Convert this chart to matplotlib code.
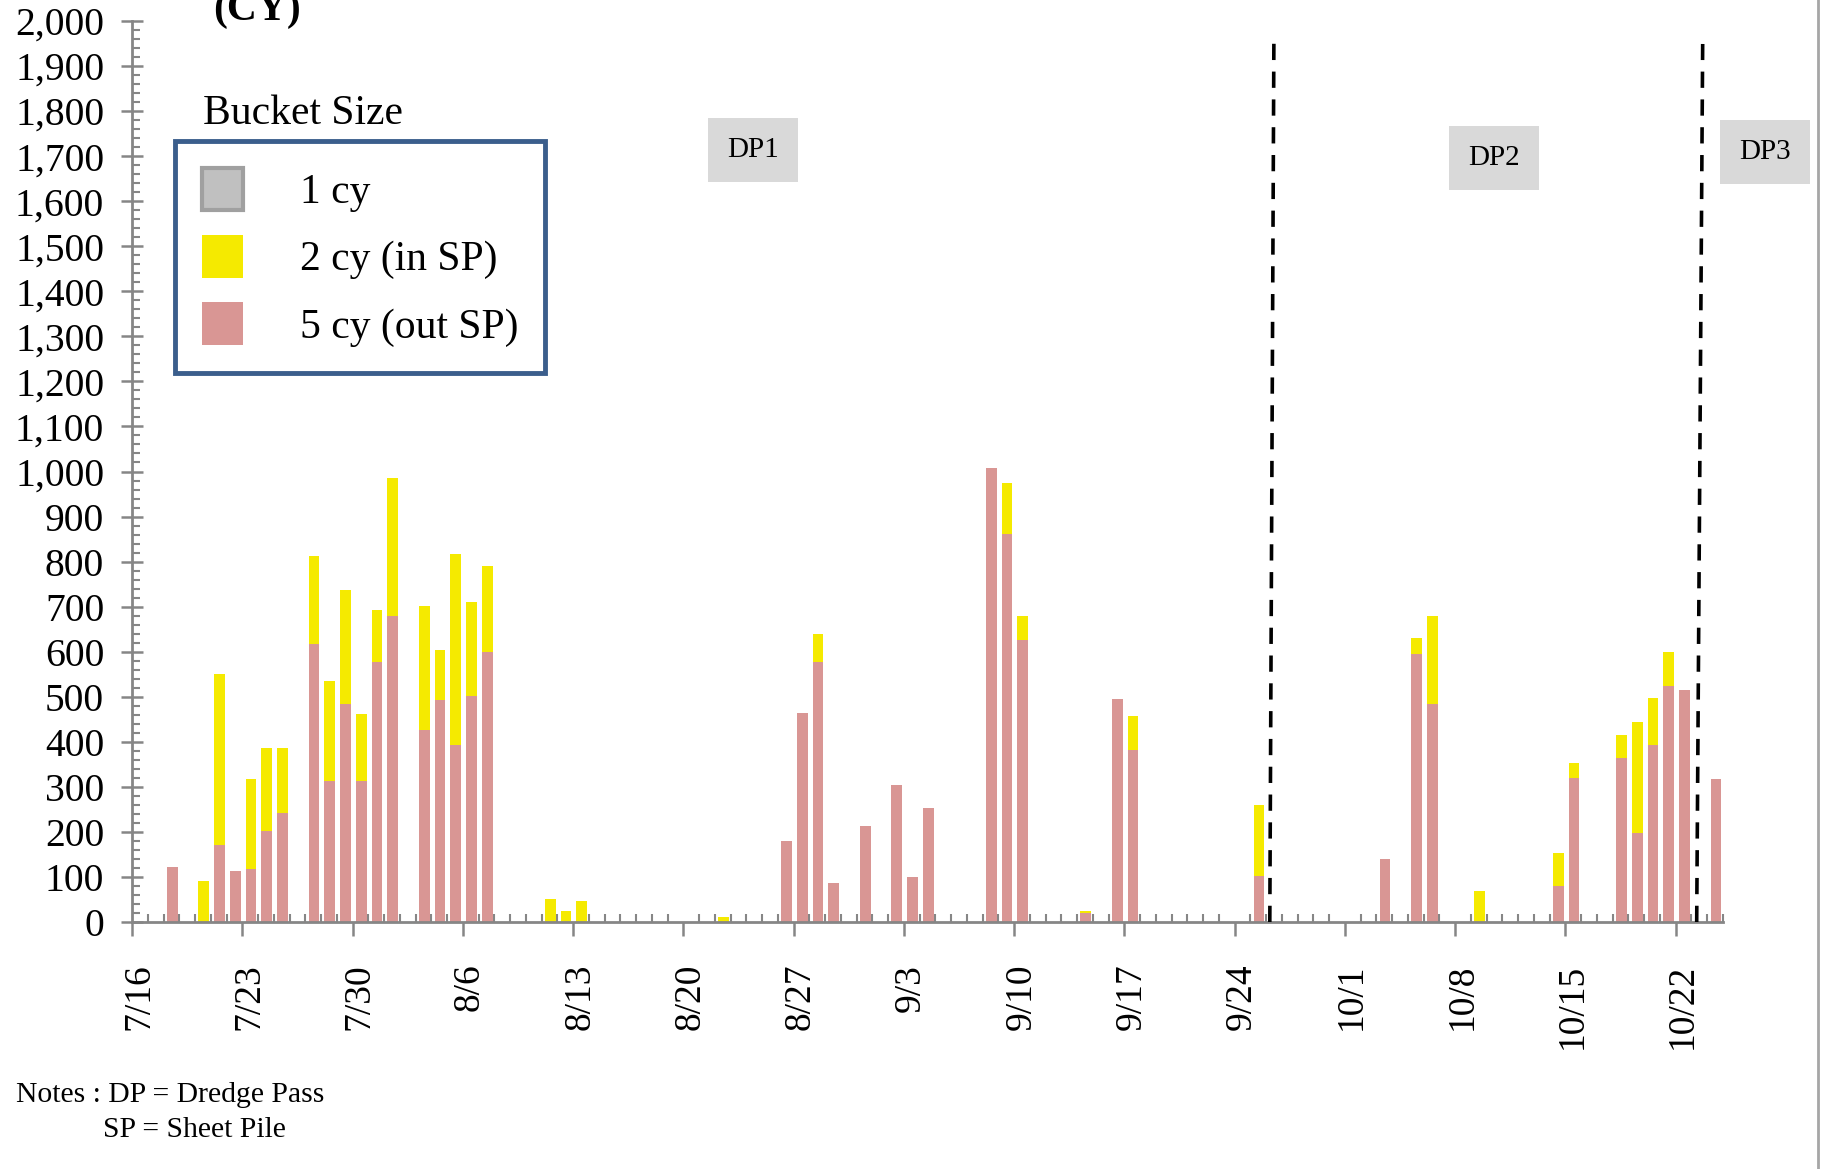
import numpy as np
import pandas as pd
import matplotlib
matplotlib.use("Agg")
import matplotlib.pyplot as plt
import matplotlib.transforms as mtransforms
from matplotlib.patches import Patch
from matplotlib.lines import Line2D
from matplotlib.ticker import FixedLocator, FuncFormatter, MultipleLocator

# ----------------------------------------------------------------
#  DATA  (daily dredged volume, CY)
# ----------------------------------------------------------------
START = "7/16"
dates = ["7/18", "7/20", "7/21", "7/22", "7/23", "7/24", "7/25", "7/27",
         "7/28", "7/29", "7/30", "7/31", "8/1", "8/3", "8/4", "8/5", "8/6",
         "8/7", "8/11", "8/12", "8/13", "8/22", "8/26", "8/27", "8/28",
         "8/29", "8/31", "9/2", "9/3", "9/4", "9/8", "9/9", "9/10", "9/14",
         "9/16", "9/17", "9/25", "10/3", "10/5", "10/6", "10/9", "10/14",
         "10/15", "10/18", "10/19", "10/20", "10/21", "10/22", "10/24"]
cy5_out_sp = [122, 0, 170, 113, 117, 201, 241, 617,
              312, 485, 312, 577, 680, 427, 493, 392, 502,
              599, 0, 0, 0, 0, 180, 463, 577,
              86, 214, 303, 99, 254, 1008, 861, 626, 19,
              494, 382, 103, 140, 595, 485, 0, 81,
              320, 364, 197, 392, 524, 516, 317]
cy2_in_sp = [0, 91, 381, 0, 200, 186, 146, 195,
             222, 251, 150, 115, 305, 274, 111, 425, 208,
             191, 50, 24, 46, 11, 0, 0, 63,
             0, 0, 0, 0, 0, 0, 114, 54, 6,
             0, 76, 156, 0, 36, 195, 68, 72,
             32, 50, 248, 106, 76, 0, 0]

tick_labels = ["7/16", "7/23", "7/30", "8/6", "8/13", "8/20", "8/27", "9/3",
               "9/10", "9/17", "9/24", "10/1", "10/8", "10/15", "10/22"]

# dredge pass boundaries (date offset at bottom / top of the drawn line)
dp_lines = [(72.23, 72.49, 1962), (99.33, 99.71, 1949)]
dp_labels = ["DP1", "DP2", "DP3"]

# ----------------------------------------------------------------
#  HELPERS
# ----------------------------------------------------------------
def day_offset(s):
    t0 = pd.Timestamp("2013/" + START)
    return (pd.Timestamp("2013/" + s) - t0).days

x = np.array([day_offset(d) for d in dates]) + 0.55
pink = np.array(cy5_out_sp, dtype=float)
yellow = np.array(cy2_in_sp, dtype=float)
tick_pos = [day_offset(t) for t in tick_labels]

C_PINK = "#D99694"
C_YEL = "#F5EA00"
C_GREY = "#C0C0C0"
C_AXIS = "#868686"

plt.rcParams["font.family"] = ["Liberation Serif", "DejaVu Serif"]

fig = plt.figure(figsize=(18.3, 11.69), dpi=100)
ax = fig.add_axes([132 / 1830, 1 - 922 / 1169, (1723 - 132) / 1830, (922 - 21) / 1169])

ax.bar(x, pink, width=0.68, color=C_PINK, linewidth=0, zorder=2)
ax.bar(x, yellow, width=0.68, bottom=pink, color=C_YEL, linewidth=0, zorder=2)

for x0, x1, top in dp_lines:
    ax.plot([x0, x1], [0, top], color="black", lw=2.6,
            linestyle=(0, (4.5, 3.2)), zorder=3, clip_on=False)

ax.set_xlim(0, 101)
ax.set_ylim(0, 2000)

# axes styling
for s in ["top", "right"]:
    ax.spines[s].set_visible(False)
for s in ["left", "bottom"]:
    ax.spines[s].set_color(C_AXIS)
    ax.spines[s].set_linewidth(2.0)

ax.yaxis.set_major_locator(MultipleLocator(100))
ax.yaxis.set_minor_locator(MultipleLocator(20))
ax.yaxis.set_major_formatter(FuncFormatter(lambda v, p: f"{int(v):,}"))
ax.tick_params(axis="y", which="major", direction="inout", length=16, width=1.8,
               color=C_AXIS, labelsize=28.5, pad=12)
ax.tick_params(axis="y", which="minor", direction="in", length=6, width=1.5,
               color=C_AXIS)

ax.xaxis.set_major_locator(FixedLocator(tick_pos))
ax.xaxis.set_minor_locator(MultipleLocator(1))
ax.set_xticklabels(tick_labels, rotation=90, ha="center", va="top")
ax.tick_params(axis="x", which="major", direction="out", length=10, width=1.8,
               color=C_AXIS, labelsize=27, pad=20)
ax.tick_params(axis="x", which="minor", direction="in", length=6, width=1.5,
               color=C_AXIS)
shift = mtransforms.ScaledTranslation(0.07, 0, fig.dpi_scale_trans)
for lab in ax.get_xticklabels():
    lab.set_transform(lab.get_transform() + shift)

# legend
handles = [Patch(facecolor=C_GREY, edgecolor="#A0A0A0", linewidth=3),
           Patch(facecolor=C_YEL, edgecolor="none"),
           Patch(facecolor=C_PINK, edgecolor="none")]
leg = ax.legend(handles, ["1 cy", "2 cy (in SP)", "5 cy (out SP)"],
                loc="upper left", bbox_to_anchor=(175 / 1830, 1 - 141 / 1169),
                bbox_transform=fig.transFigure, borderaxespad=0,
                fontsize=30, handlelength=1.0, handleheight=1.2,
                handletextpad=1.35, labelspacing=0.55, borderpad=0.64,
                fancybox=False, framealpha=1)
leg.get_frame().set_edgecolor("#3B5E8C")
leg.get_frame().set_linewidth(3.5)

fig.text(203 / 1830, 1 - 124 / 1169, "Bucket Size", fontsize=30,
         ha="left", va="baseline")
fig.text(257 / 1830, 1 - 20 / 1169, "(CY)", fontsize=30, fontweight="bold",
         ha="center", va="baseline")

# dredge pass labels
box = dict(boxstyle="square,pad=0.66", facecolor="#D9D9D9", edgecolor="none")
for lab, (cx, cy) in zip(dp_labels, [(753, 150), (1494, 158), (1765, 152)]):
    fig.text(cx / 1830, 1 - cy / 1169, lab, fontsize=21, ha="center",
             va="center", bbox=box)

# notes
fig.text(16 / 1830, 1 - 1095 / 1169, "Notes : DP = Dredge Pass", fontsize=21.3,
         ha="left", va="center")
fig.text(103 / 1830, 1 - 1130 / 1169, "SP = Sheet Pile", fontsize=21.3,
         ha="left", va="center")

# right border of the chart
fig.add_artist(Line2D([1818 / 1830, 1818 / 1830], [0, 1], color="#A6A6A6",
                      lw=2, transform=fig.transFigure))

fig.savefig("out.png", dpi=100)
